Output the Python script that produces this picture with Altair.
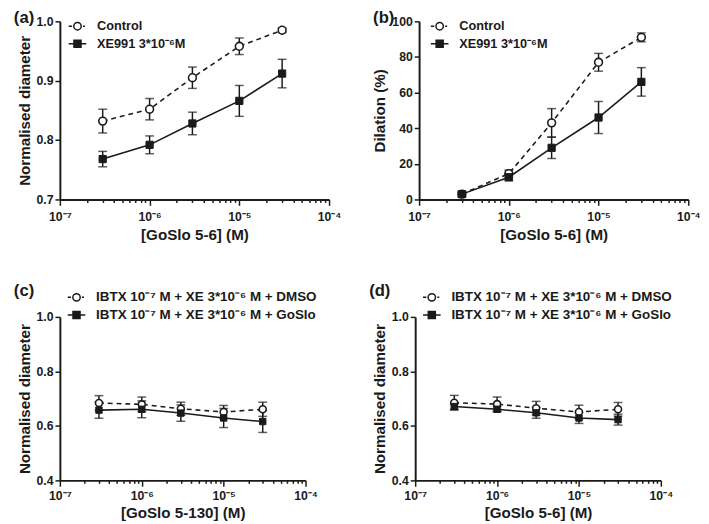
import altair as alt
import pandas as pd

FONT = "Liberation Sans"
INK = "#1a1a1a"

# concentrations (M)
conc = [3e-7, 1e-6, 3e-6, 1e-5, 3e-5]

# panel (a) normalised diameter
a_ctrl = [0.832, 0.852, 0.905, 0.958, 0.985]
a_ctrl_err = [0.020, 0.018, 0.018, 0.014, 0.004]
a_xe = [0.768, 0.792, 0.828, 0.866, 0.912]
a_xe_err = [0.013, 0.015, 0.019, 0.026, 0.024]

# panel (b) dilation %
b_ctrl = [3.0, 14.5, 43.0, 77.0, 91.0]
b_ctrl_err = [1.5, 2.0, 8.0, 5.0, 2.5]
b_xe = [3.0, 12.5, 29.0, 46.0, 66.0]
b_xe_err = [1.0, 2.0, 6.0, 9.0, 8.0]

# panel (c)
c_dmso = [0.684, 0.679, 0.663, 0.651, 0.661]
c_dmso_err = [0.027, 0.027, 0.024, 0.024, 0.026]
c_goslo = [0.658, 0.661, 0.647, 0.629, 0.616]
c_goslo_err = [0.030, 0.031, 0.030, 0.035, 0.040]

# panel (d)
d_dmso = [0.685, 0.680, 0.665, 0.651, 0.661]
d_dmso_err = [0.027, 0.026, 0.025, 0.025, 0.025]
d_goslo = [0.671, 0.661, 0.648, 0.629, 0.623]
d_goslo_err = [0.010, 0.010, 0.020, 0.020, 0.020]

names_ab = ["Control", "XE991 3*10⁻⁶M"]
names_cd = ["IBTX 10⁻⁷ M + XE 3*10⁻⁶ M + DMSO", "IBTX 10⁻⁷ M + XE 3*10⁻⁶ M + GoSlo"]

x_ticks = [m * 10.0 ** e for e in (-7, -6, -5) for m in range(1, 10)] + [1e-4]
sup = ["⁻⁷", "⁻⁶", "⁻⁵", "⁻⁴"]

MAJOR = "abs(log(datum.value)/LN10 - round(log(datum.value)/LN10)) < 0.01"
LABEL_EXPR = (MAJOR + " ? '10' + " + "['" + "','".join(sup) + "']"
              + "[round(log(datum.value)/LN10) + 7] : ''")

PATH_OPEN = ("M-1,0L-0.62,0M0.62,0L0.85,0"
             "M-0.42,0A0.42,0.42,0,1,0,0.42,0A0.42,0.42,0,1,0,-0.42,0Z")
PATH_SQ = "M-1,0L1,0M-0.4,-0.4L0.4,-0.4L0.4,0.4L-0.4,0.4Z"


def panel(key, label, names, m1, e1, m2, e2, ydom, yvals, yfmt, xtitle, ytitle,
          w, h, legx, legy, legfs, msize, label_dy, xlp, xtp):
    df = pd.DataFrame({
        "conc": conc + conc,
        "series": [names[0]] * 5 + [names[1]] * 5,
        "mean": m1 + m2,
        "lo": [m - e for m, e in zip(m1, e1)] + [m - e for m, e in zip(m2, e2)],
        "hi": [m + e for m, e in zip(m1, e1)] + [m + e for m, e in zip(m2, e2)],
    })
    sfield = "series_" + key
    df[sfield] = df["series"]
    xaxis = alt.Axis(
        values=x_ticks, labelExpr=LABEL_EXPR,
        tickSize={"condition": {"test": MAJOR, "value": 6}, "value": 3},
        grid=False, labelFlush=False, labelOverlap=False, labelPadding=xlp,
        titlePadding=xtp,
    )
    x = alt.X("conc:Q", scale=alt.Scale(type="log", domain=[1e-7, 1e-4]),
              axis=xaxis, title=xtitle)
    yaxis = alt.Axis(values=yvals, format=yfmt, grid=False, tickSize=5,
                     labelPadding=2, titlePadding=4)
    yscale = alt.Scale(domain=ydom, nice=False, zero=False)
    y = alt.Y("mean:Q", scale=yscale, axis=yaxis, title=ytitle)

    base = alt.Chart(df).encode(x=x)
    c1 = base.transform_filter(alt.datum.series == names[0])
    c2 = base.transform_filter(alt.datum.series == names[1])

    err = base.mark_errorbar(ticks=True, color=INK, thickness=1.5, size=9).encode(
        y=alt.Y("lo:Q", scale=yscale, axis=yaxis, title=ytitle),
        y2=alt.Y2("hi:Q"),
    )
    line1 = c1.mark_line(color=INK, strokeWidth=1.6, strokeDash=[5, 4]).encode(y=y)
    line2 = c2.mark_line(color=INK, strokeWidth=1.6).encode(y=y)
    pts1 = c1.mark_point(shape="circle", filled=True, fill="white", stroke=INK,
                         strokeWidth=1.6, size=msize, opacity=1).encode(y=y)
    pts2 = c2.mark_point(shape="square", filled=True, fill=INK, stroke=INK,
                         strokeWidth=1, size=msize * 0.85, opacity=1).encode(y=y)

    leg = alt.Legend(
        orient="none", legendX=legx, legendY=legy, title=None,
        labelFont=FONT, labelFontSize=legfs, labelFontWeight="bold", labelColor=INK,
        symbolSize=324, symbolStrokeWidth=1.5, symbolStrokeColor=INK, symbolOpacity=1,
        labelOffset=10, rowPadding=1, padding=0, labelLimit=400,
    )
    legend_layer = alt.Chart(df).transform_filter("false").mark_point(
        filled=True, opacity=1, strokeWidth=1.5
    ).encode(
        shape=alt.Shape(sfield + ":N", scale=alt.Scale(domain=names, range=[PATH_OPEN, PATH_SQ]),
                        legend=leg, title=None),
        fill=alt.Fill(sfield + ":N", scale=alt.Scale(domain=names, range=["white", INK]),
                      legend=leg, title=None),
        stroke=alt.Stroke(sfield + ":N", scale=alt.Scale(domain=names, range=[INK, INK]),
                          legend=leg, title=None),
        opacity=alt.value(1),
    )

    return alt.layer(err, line1, line2, pts1, pts2, legend_layer).properties(
        width=w, height=h,
        title=alt.TitleParams(label, anchor="start", frame="group", dx=-47, dy=label_dy,
                              fontSize=17, fontWeight="bold", font=FONT, color=INK,
                              offset=0),
    )


pa = panel("a", "(a)", names_ab, a_ctrl, a_ctrl_err, a_xe, a_xe_err, [0.7, 1.0],
           [0.7, 0.8, 0.9, 1.0], ".1f", "[GoSlo 5-6] (M)", "Normalised diameter",
           275, 182, 8, -5, 13, 64, 12, 6, 4)
pb = panel("b", "(b)", names_ab, b_ctrl, b_ctrl_err, b_xe, b_xe_err, [0, 100],
           [0, 20, 40, 60, 80, 100], "d", "[GoSlo 5-6] (M)", "Dilation (%)",
           275, 182, 11, -5, 13, 64, 12, 6, 4)
pc = panel("c", "(c)", names_cd, c_dmso, c_dmso_err, c_goslo, c_goslo_err, [0.4, 1.0],
           [0.4, 0.6, 0.8, 1.0], ".1f", "[GoSlo 5-130] (M)", "Normalised diameter",
           251, 167, 7, -30, 13.7, 50, 13, 4, 3)
pd_ = panel("d", "(d)", names_cd, d_dmso, d_dmso_err, d_goslo, d_goslo_err, [0.4, 1.0],
            [0.4, 0.6, 0.8, 1.0], ".1f", "[GoSlo 5-6] (M)", "Normalised diameter",
            251, 167, 7, -30, 13.7, 50, 13, 4, 3)

IND = dict(shape="independent", fill="independent", stroke="independent")

row1 = alt.hconcat(pa, pb, spacing=92, bounds="flush").resolve_scale(**IND).resolve_legend(**IND)
row2 = alt.hconcat(pc, pd_, spacing=112, bounds="flush").resolve_scale(**IND).resolve_legend(**IND)
chart = alt.vconcat(row1, row2, spacing=41).resolve_scale(**IND).resolve_legend(**IND).properties(
    padding={"left": 6, "top": -4, "right": 0, "bottom": 0}, background="white"
).configure_view(stroke=None).configure_axis(
    domainColor=INK, domainWidth=2, tickColor=INK, tickWidth=1.5,
    labelFont=FONT, labelFontSize=12.5, labelFontWeight="bold", labelColor=INK,
    titleFont=FONT, titleFontSize=15.5, titleFontWeight="bold", titleColor=INK,
)

chart.save("out.html", embed_options={"renderer": "svg", "actions": False})
